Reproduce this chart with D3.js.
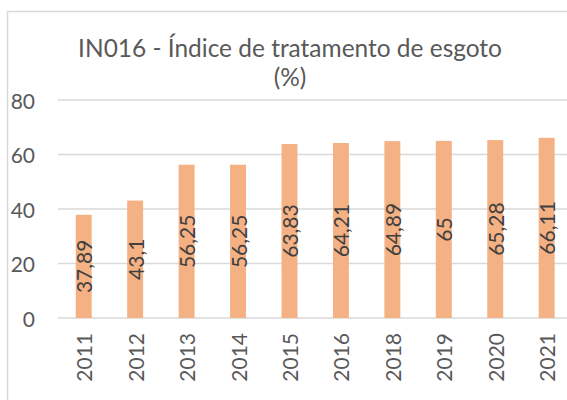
<!DOCTYPE html>
<html>
<head>
<meta charset="utf-8">
<script src="https://cdn.jsdelivr.net/npm/d3@7"></script>
<style>
  html, body { margin: 0; padding: 0; background: #fff; }
  svg { display: block; }
</style>
</head>
<body>
<svg id="chart" width="567" height="400"></svg>
<script>
const categories = ["2011", "2012", "2013", "2014", "2015", "2016", "2018", "2019", "2020", "2021"];
const values = [37.89, 43.1, 56.25, 56.25, 63.83, 64.21, 64.89, 65, 65.28, 66.11];
const yTicks = [0, 20, 40, 60, 80];
const titleLines = ["IN016 - Índice de tratamento de esgoto", "(%)"];

const FONT = "Lato, 'Open Sans', sans-serif";
const svg = d3.select("#chart");

// chart area border
svg.append("rect")
  .attr("x", 7.5).attr("y", 11.5)
  .attr("width", 600).attr("height", 420)
  .attr("fill", "#fff")
  .attr("stroke", "#D9D9D9").attr("stroke-width", 1.5);

const x = d3.scaleBand()
  .domain(categories)
  .range([58, 572.4])
  .paddingInner(0.69)
  .paddingOuter(0.345);

const y = d3.scaleLinear().domain([0, 80]).range([318, 100]);

// gridlines
svg.append("g").selectAll("line")
  .data(yTicks)
  .join("line")
  .attr("x1", 58).attr("x2", 567)
  .attr("y1", d => y(d)).attr("y2", d => y(d))
  .attr("stroke", "#D9D9D9").attr("stroke-width", 1.5);

// y axis labels
svg.append("g").selectAll("text")
  .data(yTicks)
  .join("text")
  .attr("x", 35)
  .attr("y", d => y(d))
  .attr("text-anchor", "end")
  .attr("dominant-baseline", "central")
  .attr("font-family", FONT)
  .attr("font-size", 21)
  .attr("fill", "#595959")
  .text(d => d);

// bars
svg.append("g").selectAll("rect")
  .data(values)
  .join("rect")
  .attr("x", (d, i) => x(categories[i]))
  .attr("width", x.bandwidth())
  .attr("y", d => y(d))
  .attr("height", d => y(0) - y(d))
  .attr("fill", "#F4B183");

// data labels
svg.append("g").selectAll("text")
  .data(values)
  .join("text")
  .attr("transform", (d, i) => {
    const cx = x(categories[i]) + x.bandwidth() / 2;
    const cy = (y(d) + y(0)) / 2;
    return `translate(${cx},${cy}) rotate(-90)`;
  })
  .attr("text-anchor", "middle")
  .attr("dominant-baseline", "central")
  .attr("font-family", FONT)
  .attr("font-size", 21)
  .attr("fill", "#404040")
  .text(d => String(d).replace(".", ","));

// x axis labels
svg.append("g").selectAll("text")
  .data(categories)
  .join("text")
  .attr("transform", d => `translate(${x(d) + x.bandwidth() / 2},333) rotate(-90)`)
  .attr("text-anchor", "end")
  .attr("dominant-baseline", "central")
  .attr("font-family", FONT)
  .attr("font-size", 21)
  .attr("fill", "#595959")
  .text(d => d);

// title
const t1 = svg.append("text")
  .attr("x", 290).attr("y", 57)
  .attr("text-anchor", "middle")
  .attr("font-family", FONT)
  .attr("font-size", 22)
  .attr("fill", "#595959")
  .text(titleLines[0]);
const w = t1.node().getComputedTextLength();
const fs = 22 * 424 / w;
t1.attr("font-size", fs);
svg.append("text")
  .attr("x", 290).attr("y", 86)
  .attr("text-anchor", "middle")
  .attr("font-family", FONT)
  .attr("font-size", fs)
  .attr("fill", "#595959")
  .text(titleLines[1]);
</script>
</body>
</html>
